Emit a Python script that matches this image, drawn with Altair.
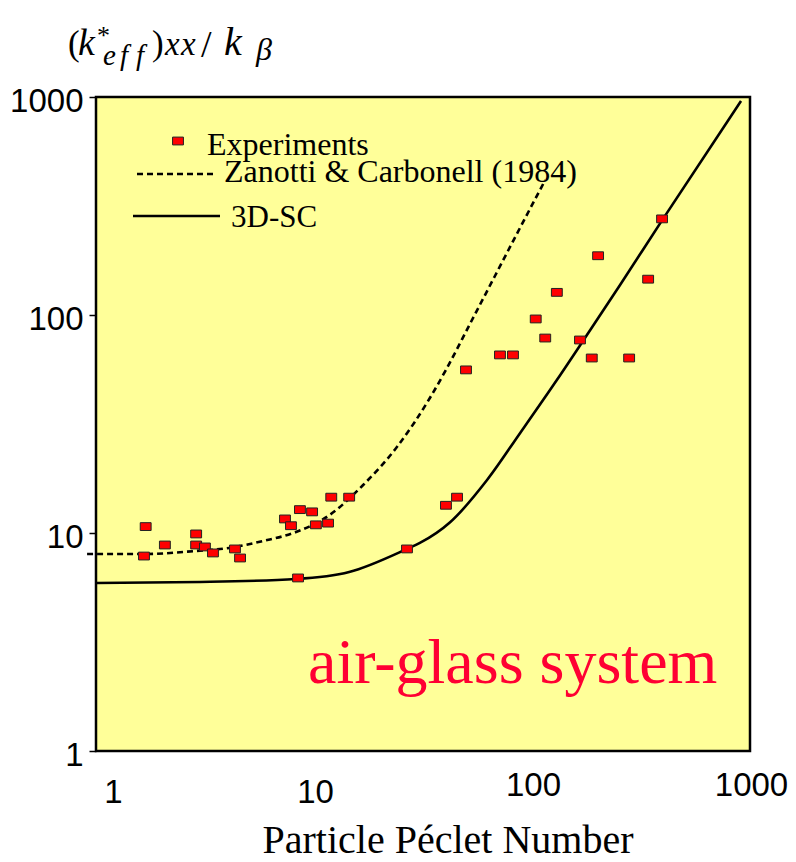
import altair as alt
import pandas as pd

# Experimental points
exp_x = [1.69, 1.66, 2.07, 2.88, 2.88, 3.16, 3.44, 4.34, 4.58, 7.36, 7.84, 8.62, 9.8, 10.2,
         11.6, 12.0, 14.5, 8.45, 26.7, 40.3, 45.3, 49.8, 71.3, 81.8, 104, 115, 130, 166,
         188, 201, 279, 341, 395]
exp_y = [10.7, 7.84, 8.81, 9.9, 8.81, 8.63, 8.1, 8.45, 7.68, 11.6, 10.8, 12.8, 12.5, 10.9,
         11.1, 14.6, 14.6, 6.22, 8.45, 13.4, 14.6, 56.0, 65.6, 65.6, 95.9, 78.4, 127, 76.8,
         63.5, 187, 63.5, 146, 276]

# Zanotti & Carbonell (1984) curve
zc_x = [0.91, 1.15, 1.66, 2.87, 4.08, 5.84, 8.27, 11.8, 16.8, 24.0, 34.0, 40.3, 51.9, 67.6, 88.1, 115]
zc_y = [8.01, 8.01, 8.01, 8.27, 8.54, 9.19, 10.1, 12.1, 16.6, 24.8, 41.6, 56.0, 90.9, 151, 251, 416]

# 3D-SC curve
sc_x = [1.0, 3.0, 8.27, 14.5, 26.7, 30.6, 42.1, 62.2, 88.1, 130, 185, 253, 399, 910]
sc_y = [5.90, 5.96, 6.15, 6.62, 8.45, 9.0, 11.2, 17.5, 28.7, 50.3, 85.3, 137, 276, 959]

tick_vals = [1, 10, 100, 1000]

exp_df = pd.DataFrame({"pe": exp_x, "k": exp_y})
zc_df = pd.DataFrame({"pe": zc_x, "k": zc_y})
sc_df = pd.DataFrame({"pe": sc_x, "k": sc_y})

xscale = alt.Scale(type="log", domain=[1, 1000], nice=False)
yscale = alt.Scale(type="log", domain=[1, 1000], nice=False)

xaxis = alt.Axis(values=tick_vals, format="d", title=None, grid=False, domain=False,
                 ticks=False, labelFont="Liberation Sans", labelFontSize=33,
                 labelColor="black", labelFlush=False,
                 labelOffset={"condition": {"test": "datum.value === 1", "value": 17}, "value": 1},
                 labelPadding={"condition": {"test": "datum.value < 100", "value": 25}, "value": 18})
yaxis = alt.Axis(values=tick_vals, format="d", title=None, grid=False, domain=False,
                 ticks=True, tickSize=7, tickColor="black", tickWidth=1.5,
                 labelFont="Liberation Sans", labelFontSize=33, labelColor="black",
                 labelPadding=6, labelOffset=4, labelFlush=False)

MARKER = "M-1,-0.72H1V0.72H-1Z"

points = alt.Chart(exp_df).mark_point(shape=MARKER, filled=True, size=118, fill="#FF0000",
                                      stroke="#222222", strokeWidth=1, opacity=1).encode(
    x=alt.X("pe:Q", scale=xscale, axis=xaxis),
    y=alt.Y("k:Q", scale=yscale, axis=yaxis),
)

zc_line = alt.Chart(zc_df).mark_line(color="black", strokeWidth=2.6, strokeDash=[6, 4],
                                     interpolate="monotone").encode(
    x=alt.X("pe:Q", scale=xscale), y=alt.Y("k:Q", scale=yscale))

sc_line = alt.Chart(sc_df).mark_line(color="black", strokeWidth=2.6,
                                     interpolate="monotone").encode(
    x=alt.X("pe:Q", scale=xscale), y=alt.Y("k:Q", scale=yscale))

ONE = alt.Data(values=[{"a": 1}])


def txt(s, x, y, size, font="Liberation Serif", style="normal", color="black", align="left"):
    return alt.Chart(ONE).mark_text(text=s, font=font, fontSize=size, fontStyle=style,
                                    color=color, align=align, baseline="alphabetic").encode(
        x=alt.value(x), y=alt.value(y))


# legend
leg_marker = alt.Chart(ONE).mark_point(shape=MARKER, filled=True, size=118, fill="#FF0000",
                                       stroke="#222222", strokeWidth=1, opacity=1).encode(
    x=alt.value(82), y=alt.value(44))
leg_dash = alt.Chart(ONE).mark_rule(color="black", strokeWidth=2.4, strokeDash=[6, 4]).encode(
    x=alt.value(41), x2=alt.value(119), y=alt.value(77))
leg_solid = alt.Chart(ONE).mark_rule(color="black", strokeWidth=2.6).encode(
    x=alt.value(37), x2=alt.value(124), y=alt.value(119))

texts = [
    txt("Experiments", 111, 58, 32),
    txt("Zanotti & Carbonell (1984)", 128, 85, 32),
    txt("3D-SC", 135, 130, 31),
    txt("air-glass system", 212, 586, 64, color="#FF0033"),
    txt("Particle Péclet Number", 352, 756, 40, align="center"),
    # y title (k*_eff)_xx / k_beta
    txt("(", -28, -42, 35),
    txt("k", -18, -42, 38, style="italic"),
    txt("*", 1, -53, 26),
    txt("e", 7, -32, 29, style="italic"),
    txt("f", 24, -32, 29, style="italic"),
    txt("f", 40, -32, 29, style="italic"),
    txt(")", 56, -42, 35),
    txt("x", 69, -42, 33, style="italic"),
    txt("x", 85, -42, 33, style="italic"),
    txt("/", 105, -40, 38),
    txt("k", 128, -42, 40, style="italic"),
    txt("β", 160, -37, 32, style="italic"),
]

chart = alt.layer(zc_line, sc_line, points, leg_marker, leg_dash, leg_solid, *texts).properties(
    width=654, height=654,
    autosize=alt.AutoSizeParams(type="none"),
    padding={"left": 88, "top": 89, "right": 38, "bottom": 112},
    background="white",
).configure_view(fill="#FFFF99", stroke="black", strokeWidth=2.5)

chart.save("out.html", embed_options={"renderer": "svg", "actions": False})
